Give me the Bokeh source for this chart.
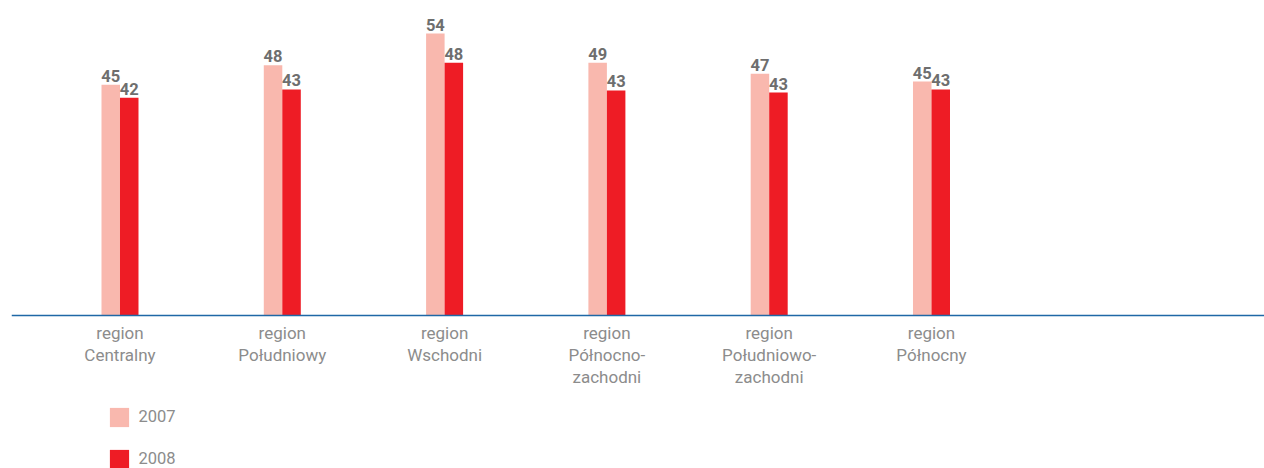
from bokeh.plotting import figure
from bokeh.models import ColumnDataSource, Span, Legend, LegendItem, Range1d
from bokeh.core.properties import value
from bokeh.embed import file_html
from bokeh.resources import INLINE

# ---- data ----
categories = ["region\nCentralny", "region\nPołudniowy", "region\nWschodni",
              "region\nPółnocno-\nzachodni", "region\nPołudniowo-\nzachodni", "region\nPółnocny"]
values_2007 = [44.2, 47.9, 54.0, 48.4, 46.3, 44.8]
values_2008 = [41.7, 43.3, 48.4, 43.1, 42.7, 43.3]
labels_2007 = ["45", "48", "54", "49", "47", "45"]
labels_2008 = ["42", "43", "48", "43", "43", "43"]
series_names = ["2007", "2008"]

COL07 = "#f9b8ae"
COL08 = "#ee1c25"
FONT = "Roboto"

xs = list(range(len(categories)))
bw = 0.114
src07 = ColumnDataSource(dict(x=[i - bw / 2 for i in xs], top=values_2007, lab=labels_2007))
src08 = ColumnDataSource(dict(x=[i + bw / 2 for i in xs], top=values_2008, lab=labels_2008))
srccat = ColumnDataSource(dict(x=xs, y=[0] * len(xs), lab=categories))

p = figure(width=1264, height=468, output_backend="svg", toolbar_location=None,
           min_border_left=11, min_border_right=0, min_border_top=8, min_border_bottom=0,
           x_range=Range1d(-0.6685, 7.0518), y_range=Range1d(-29.30, 58.79))
p.axis.visible = False
p.grid.visible = False
p.outline_line_color = None

p.add_layout(Span(location=0, dimension="width", line_color="#1f68a6", line_width=1.6))

r07 = p.vbar(x="x", top="top", bottom=0, width=bw, source=src07, fill_color=COL07, line_color=None)
r08 = p.vbar(x="x", top="top", bottom=0, width=bw, source=src08, fill_color=COL08, line_color=None)

for s in (src07, src08):
    p.text(x="x", y="top", text="lab", source=s, text_align="center", text_baseline="bottom",
           y_offset=-3, text_font=value(FONT), text_font_style="bold", text_font_size="16.5px",
           text_color="#6e6e6e")

p.text(x="x", y="y", text="lab", source=srccat, text_align="center", text_baseline="top",
       y_offset=8, text_font=value(FONT), text_font_size="17px", text_color="#8c8c8c",
       text_line_height=1.1)

legend = Legend(items=[LegendItem(label=series_names[0], renderers=[r07]),
                       LegendItem(label=series_names[1], renderers=[r08])],
                location=(95.5, -2.5), orientation="vertical")
legend.glyph_width = 24
legend.glyph_height = 24
legend.label_height = 24
legend.spacing = 18
legend.padding = 0
legend.margin = 0
legend.label_standoff = 8
legend.border_line_color = None
legend.background_fill_alpha = 0
legend.label_text_font = FONT
legend.label_text_font_size = "16.5px"
legend.label_text_color = "#8c8c8c"
p.add_layout(legend)

open("out.html", "w").write(file_html(p, INLINE))
